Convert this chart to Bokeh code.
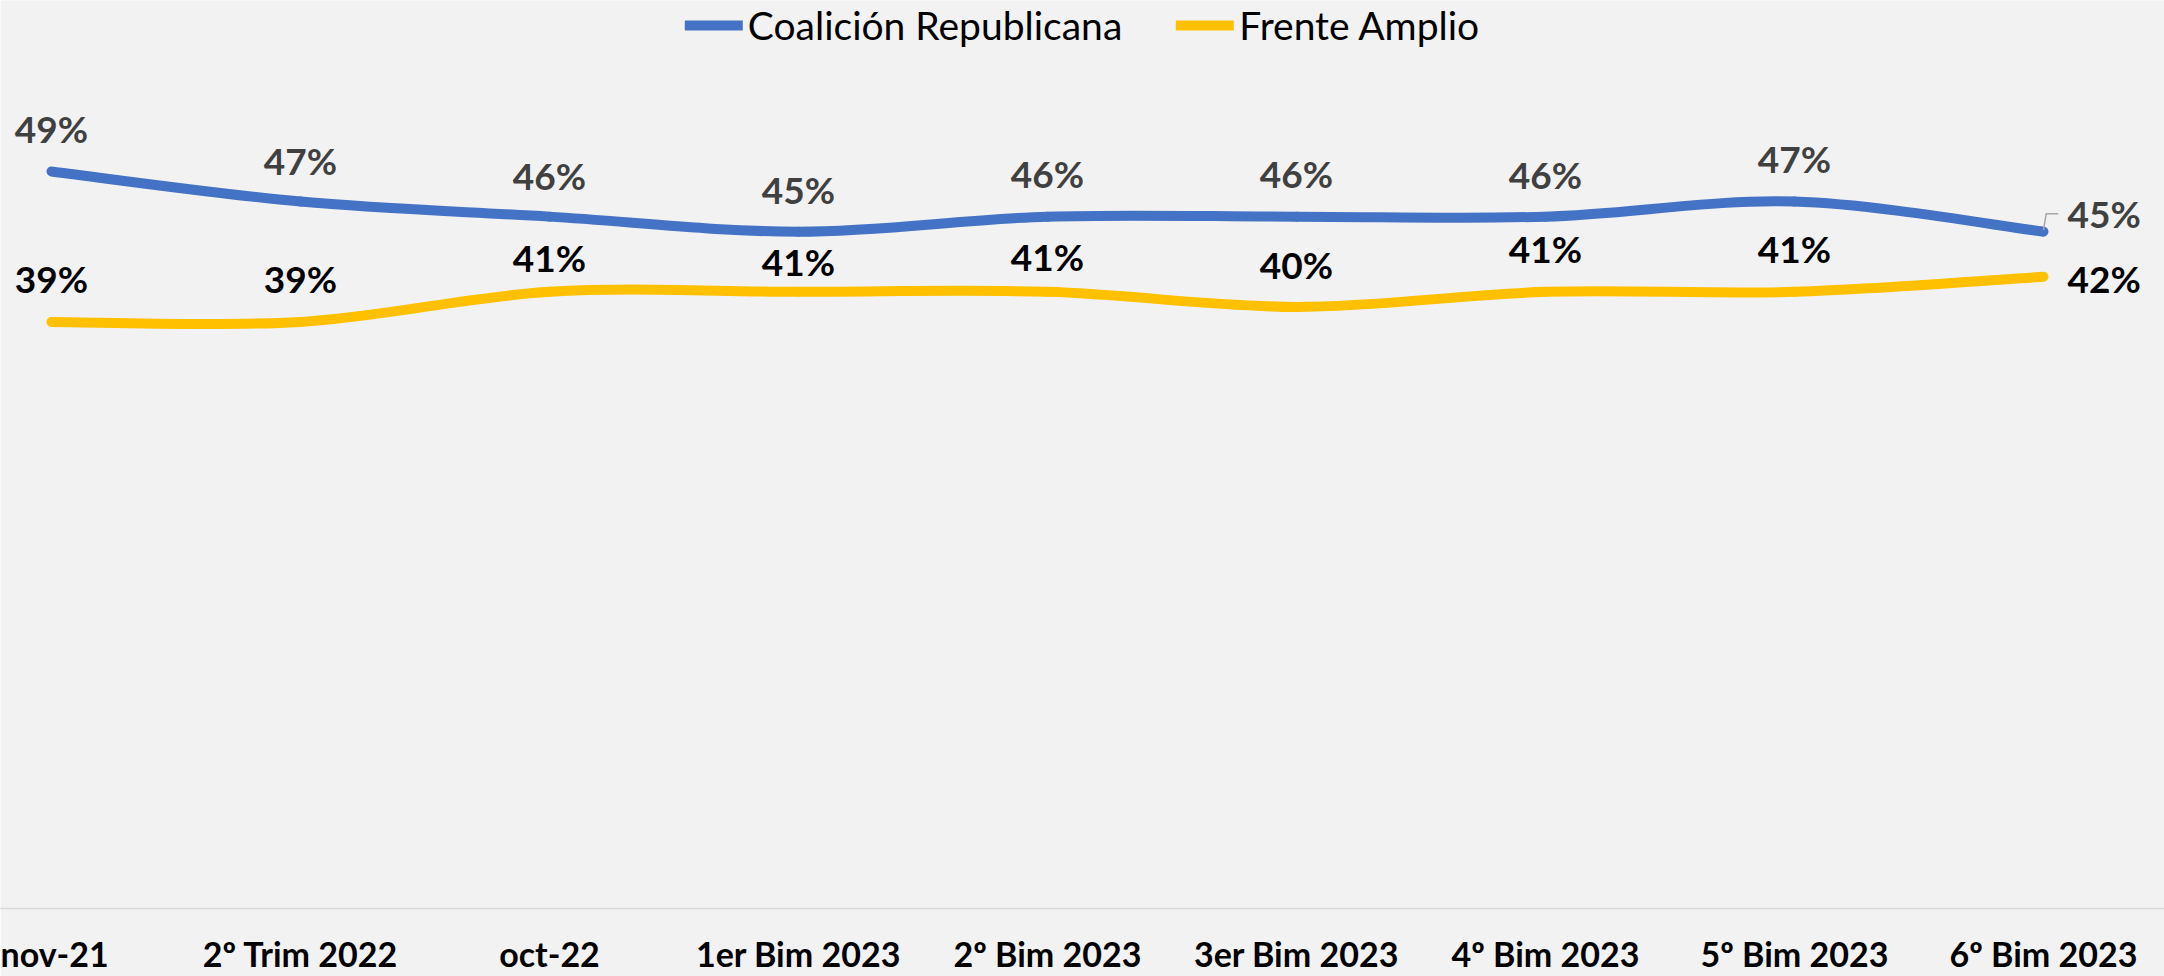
from bokeh.plotting import figure
from bokeh.models import Range1d, FixedTicker, ColumnDataSource, Legend, LegendItem
from bokeh.core.properties import value
from bokeh.embed import file_html
from bokeh.resources import INLINE

categories = ["nov-21", "2º Trim 2022", "oct-22", "1er Bim 2023", "2º Bim 2023",
              "3er Bim 2023", "4º Bim 2023", "5º Bim 2023", "6º Bim 2023"]
coalicion = [49, 47, 46, 45, 46, 46, 46, 47, 45]
frente = [39, 39, 41, 41, 41, 40, 41, 41, 42]
series_names = ["Coalición Republicana", "Frente Amplio"]

# label vertical offsets in pixels (style only)
coal_label_offsets = [-43, -41, -41, -42, -43, -43, -42, -43]
frente_label_offsets = [-43, -43, -34, -30, -35, -42, -43, -43]

BG = "#F2F2F2"
BLUE = "#4472C4"
GOLD = "#FFC000"
FONT = "Lato"

xs = list(range(len(categories)))

p = figure(width=2164, height=976,
           x_range=Range1d(-0.2048, 8.486), y_range=Range1d(0, 60.37),
           output_backend="svg", toolbar_location=None,
           y_axis_location=None, x_axis_location="below",
           min_border=0, min_border_left=0, min_border_right=0, min_border_top=0)
p.background_fill_color = BG
p.border_fill_color = BG
p.outline_line_color = None
p.xgrid.visible = False
p.ygrid.visible = False

ax = p.xaxis[0]
ax.ticker = FixedTicker(ticks=xs)
ax.major_label_overrides = {i: c for i, c in enumerate(categories)}
ax.major_tick_line_color = None
ax.minor_tick_line_color = None
ax.major_tick_out = 0
ax.major_tick_in = 0
ax.axis_line_color = "#D9D9D9"
ax.axis_line_width = 1.5
ax.major_label_text_font = FONT
ax.major_label_text_font_style = "bold"
ax.major_label_text_font_size = "34px"
ax.major_label_text_color = "#000000"
ax.major_label_standoff = 24


def smooth_segments(x, y):
    n = len(x)
    seg = dict(x0=[], y0=[], x1=[], y1=[], cx0=[], cy0=[], cx1=[], cy1=[])
    for i in range(n - 1):
        xm = x[i - 1] if i > 0 else x[i]
        ym = y[i - 1] if i > 0 else y[i]
        xp = x[i + 2] if i + 2 < n else x[i + 1]
        yp = y[i + 2] if i + 2 < n else y[i + 1]
        seg["x0"].append(x[i]); seg["y0"].append(y[i])
        seg["x1"].append(x[i + 1]); seg["y1"].append(y[i + 1])
        seg["cx0"].append(x[i] + (x[i + 1] - xm) / 6.0)
        seg["cy0"].append(y[i] + (y[i + 1] - ym) / 6.0)
        seg["cx1"].append(x[i + 1] - (xp - x[i]) / 6.0)
        seg["cy1"].append(y[i + 1] - (yp - y[i]) / 6.0)
    return ColumnDataSource(seg)


r_coal = p.bezier(x0="x0", y0="y0", x1="x1", y1="y1", cx0="cx0", cy0="cy0",
                  cx1="cx1", cy1="cy1", source=smooth_segments(xs, coalicion),
                  line_color=BLUE, line_width=10, line_cap="round")
r_fa = p.bezier(x0="x0", y0="y0", x1="x1", y1="y1", cx0="cx0", cy0="cy0",
                cx1="cx1", cy1="cy1", source=smooth_segments(xs, frente),
                line_color=GOLD, line_width=10, line_cap="round")

# data labels (all but last point: centered above)
def pct(v):
    return [f"{int(round(t))}%" for t in v]

src_c = ColumnDataSource(dict(x=xs[:-1], y=coalicion[:-1], t=pct(coalicion[:-1]),
                              off=coal_label_offsets))
src_f = ColumnDataSource(dict(x=xs[:-1], y=frente[:-1], t=pct(frente[:-1]),
                              off=frente_label_offsets))
p.text(x="x", y="y", text="t", y_offset="off", source=src_c,
       text_font=value(FONT), text_font_style="bold", text_font_size="37px",
       text_color="#404040", text_align="center", text_baseline="middle")
p.text(x="x", y="y", text="t", y_offset="off", source=src_f,
       text_font=value(FONT), text_font_style="bold", text_font_size="37px",
       text_color="#000000", text_align="center", text_baseline="middle")

# last point labels to the right
p.text(x=[xs[-1]], y=[coalicion[-1]], text=pct([coalicion[-1]]), x_offset=24, y_offset=-18,
       text_font=value(FONT), text_font_style="bold", text_font_size="37px",
       text_color="#404040", text_align="left", text_baseline="middle")
p.text(x=[xs[-1]], y=[frente[-1]], text=pct([frente[-1]]), x_offset=24, y_offset=2,
       text_font=value(FONT), text_font_style="bold", text_font_size="37px",
       text_color="#000000", text_align="left", text_baseline="middle")

# leader line for the last Coalición label
lx, ly = xs[-1], coalicion[-1]
p.line(x=[lx, lx + 0.011, lx + 0.059], y=[ly + 0.1, ly + 1.2, ly + 1.2],
       line_color="#A6A6A6", line_width=1.5)

legend = Legend(items=[LegendItem(label=series_names[0], renderers=[r_coal]),
                       LegendItem(label=series_names[1], renderers=[r_fa])],
                location="top_center", orientation="horizontal")
legend.background_fill_alpha = 0
legend.border_line_alpha = 0
legend.glyph_width = 58
legend.glyph_height = 40
legend.label_standoff = 5
legend.spacing = 54
legend.padding = 2
legend.margin = 0
legend.label_text_font = FONT
legend.label_text_font_size = "39px"
legend.label_text_color = "#000000"
p.add_layout(legend)

open("out.html", "w").write(file_html(p, INLINE))
